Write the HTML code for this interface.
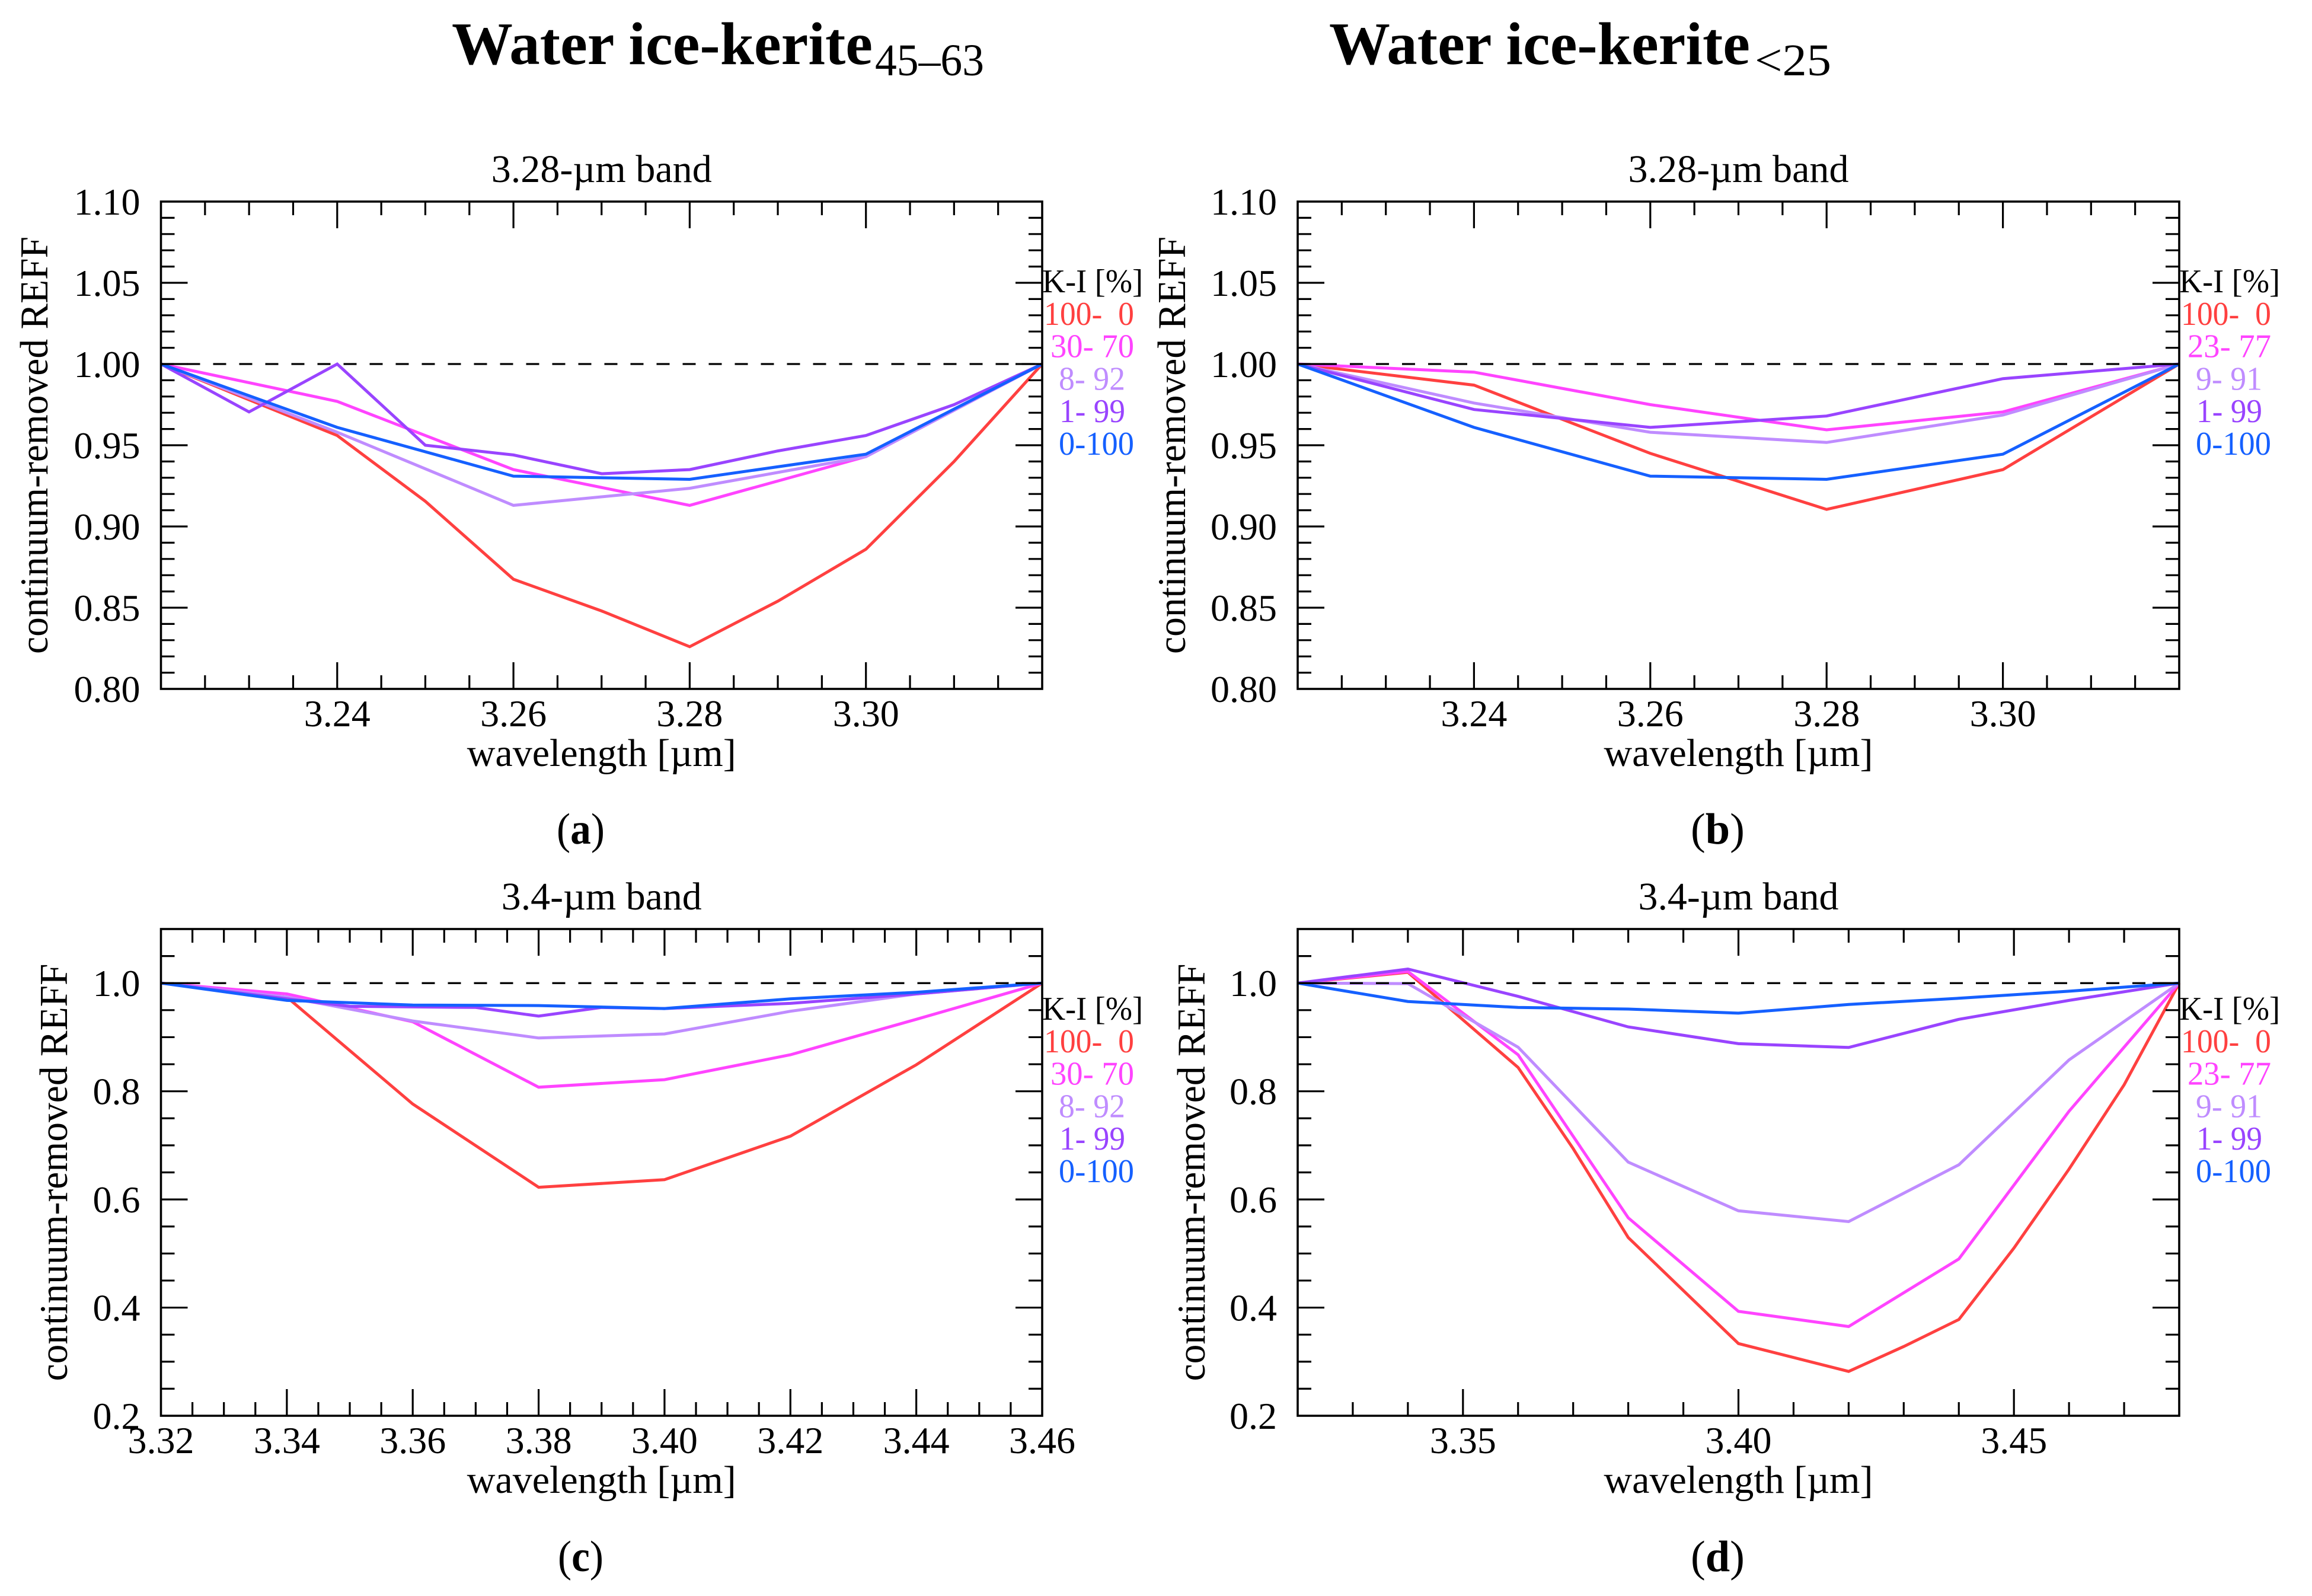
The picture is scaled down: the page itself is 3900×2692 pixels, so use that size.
<!DOCTYPE html>
<html lang="en">
<head>
<meta charset="utf-8">
<title>Water ice-kerite continuum-removed reflectance</title>
<style>
html,body{margin:0;padding:0;background:#fff;}
svg{display:block;}
text{font-family:"Liberation Serif","DejaVu Serif",serif;fill:#000;white-space:pre;}
</style>
</head>
<body>
<svg id="figure" xmlns="http://www.w3.org/2000/svg" width="3900" height="2692" viewBox="0 0 3900 2692">
  <rect x="0" y="0" width="3900" height="2692" fill="#fff"/>
  <text x="762" y="108" font-size="102" font-weight="bold" textLength="710" lengthAdjust="spacingAndGlyphs">Water ice-kerite</text>
  <text x="1476" y="127" font-size="76" textLength="184" lengthAdjust="spacingAndGlyphs">45–63</text>
  <text x="2242" y="108" font-size="102" font-weight="bold" textLength="710" lengthAdjust="spacingAndGlyphs">Water ice-kerite</text>
  <text x="2960" y="127" font-size="76" textLength="129" lengthAdjust="spacingAndGlyphs">&lt;25</text>
  <text x="939" y="1423" font-size="74" textLength="81" lengthAdjust="spacingAndGlyphs">(<tspan font-weight="bold">a</tspan>)</text>
  <text x="2852" y="1423" font-size="74" textLength="91" lengthAdjust="spacingAndGlyphs">(<tspan font-weight="bold">b</tspan>)</text>
  <text x="941" y="2650" font-size="74" textLength="77" lengthAdjust="spacingAndGlyphs">(<tspan font-weight="bold">c</tspan>)</text>
  <text x="2852" y="2650" font-size="74" textLength="91" lengthAdjust="spacingAndGlyphs">(<tspan font-weight="bold">d</tspan>)</text>
</svg>
<script>
// ---------- Panel (a) data ----------
const aWave = [3.22, 3.24, 3.26, 3.28, 3.30, 3.32];
const aDenseWave = [3.22, 3.23, 3.24, 3.25, 3.26, 3.27, 3.28, 3.29, 3.30, 3.31, 3.32];
const aRed = [1.0, 0.978, 0.956, 0.9155, 0.8675, 0.848, 0.826, 0.854, 0.886, 0.94, 1.0];
const aMagenta = [1.0, 0.977, 0.935, 0.913, 0.943, 1.0];
const aLight = [1.0, 0.958, 0.913, 0.9235, 0.943, 1.0];
const aPurple = [1.0, 0.9705, 1.0, 0.95, 0.944, 0.9325, 0.935, 0.9465, 0.956, 0.975, 1.0];
const aBlue = [1.0, 0.961, 0.931, 0.929, 0.9445, 1.0];
const aLegend = ['100-  0', '30- 70', '8- 92', '1- 99', '0-100'];
const aXLabels = ['3.24', '3.26', '3.28', '3.30'];
const aYLabels = ['0.80', '0.85', '0.90', '0.95', '1.00', '1.05', '1.10'];

// ---------- Panel (b) data ----------
const bWave = [3.22, 3.24, 3.26, 3.28, 3.30, 3.32];
const bRed = [1.0, 0.987, 0.945, 0.9105, 0.935, 1.0];
const bMagenta = [1.0, 0.995, 0.975, 0.9595, 0.9705, 1.0];
const bLight = [1.0, 0.976, 0.958, 0.9517, 0.9686, 1.0];
const bPurple = [1.0, 0.972, 0.961, 0.968, 0.991, 1.0];
const bBlue = [1.0, 0.961, 0.931, 0.929, 0.9445, 1.0];
const bLegend = ['100-  0', '23- 77', '9- 91', '1- 99', '0-100'];
const bXLabels = ['3.24', '3.26', '3.28', '3.30'];
const bYLabels = ['0.80', '0.85', '0.90', '0.95', '1.00', '1.05', '1.10'];

// ---------- Panel (c) data ----------
const cWave = [3.32, 3.34, 3.36, 3.38, 3.40, 3.42, 3.44, 3.46];
const cPurpleWave = [3.32, 3.34, 3.35, 3.37, 3.38, 3.39, 3.40, 3.42, 3.44, 3.46];
const cRed = [1.0, 0.974, 0.7765, 0.6225, 0.6365, 0.717, 0.849, 1.0];
const cMagenta = [1.0, 0.98, 0.9285, 0.8075, 0.8215, 0.8675, 0.933, 1.0];
const cLight = [1.0, 0.974, 0.93, 0.8985, 0.906, 0.948, 0.98, 1.0];
const cPurple = [1.0, 0.971, 0.957, 0.955, 0.939, 0.955, 0.953, 0.9625, 0.98, 1.0];
const cBlue = [1.0, 0.968, 0.9595, 0.9585, 0.953, 0.971, 0.983, 1.0];
const cLegend = ['100-  0', '30- 70', '8- 92', '1- 99', '0-100'];
const cXLabels = ['3.32', '3.34', '3.36', '3.38', '3.40', '3.42', '3.44', '3.46'];
const cYLabels = ['0.2', '0.4', '0.6', '0.8', '1.0'];

// ---------- Panel (d) data ----------
const dWave = [3.32, 3.34, 3.36, 3.38, 3.40, 3.42, 3.44, 3.46, 3.48];
const dRedWave = [3.32, 3.34, 3.36, 3.37, 3.38, 3.40, 3.42, 3.43, 3.44, 3.45, 3.46, 3.47, 3.48];
const dMagentaWave = [3.32, 3.34, 3.36, 3.38, 3.40, 3.42, 3.44, 3.46, 3.48];
const dRed = [1.0, 1.02, 0.844, 0.694, 0.5295, 0.3335, 0.282, 0.328, 0.378, 0.51, 0.656, 0.812, 1.0];
const dMagenta = [1.0, 1.0215, 0.8675, 0.566, 0.393, 0.365, 0.49, 0.763, 1.0];
const dLight = [1.0, 0.999, 0.8815, 0.669, 0.579, 0.559, 0.664, 0.858, 1.0];
const dPurple = [1.0, 1.026, 0.9755, 0.919, 0.888, 0.881, 0.933, 0.968, 1.0];
const dBlue = [1.0, 0.966, 0.955, 0.952, 0.9445, 0.9605, 0.972, 0.985, 1.0];
const dLegend = ['100-  0', '23- 77', '9- 91', '1- 99', '0-100'];
const dXLabels = ['3.35', '3.40', '3.45'];
const dYLabels = ['0.2', '0.4', '0.6', '0.8', '1.0'];

// ---------- Styling ----------
const NS = 'http://www.w3.org/2000/svg';
const svg = document.getElementById('figure');
const seriesColors = ['#ff4040', '#ff44ff', '#bf8cff', '#9944ff', '#1560ff'];
const seriesNames = ['k100-i0', 'mix-high-kerite', 'mix-mid-kerite', 'k1-i99', 'k0-i100'];

function make(parent, tag, name) {
  const el = document.createElementNS(NS, tag);
  
  
  parent.appendChild(el);
  return el;
}

function stroke(parent, name, x1, y1, x2, y2, w) {
  const l = make(parent, 'line', name);
  l.setAttribute('x1', x1);
  l.setAttribute('y1', y1);
  l.setAttribute('x2', x2);
  l.setAttribute('y2', y2);
  l.setAttribute('stroke', '#000');
  l.setAttribute('stroke-width', w);
  return l;
}

function label(parent, name, str, x, y, size, anchor, len) {
  const t = make(parent, 'text', name);
  t.setAttribute('x', x);
  t.setAttribute('y', y);
  t.setAttribute('font-size', size);
  t.setAttribute('text-anchor', anchor);
  if (len) {
    t.setAttribute('textLength', len);
    t.setAttribute('lengthAdjust', 'spacingAndGlyphs');
  }
  t.textContent = str;
  return t;
}

function drawPanel(p) {
  const g = make(svg, 'g', 'panel-' + p.id);
  const W = p.right - p.left;
  const H = p.bottom - p.top;
  const xAt = v => p.left + (v - p.xMin) / (p.xMax - p.xMin) * W;
  const yAt = v => p.bottom - (v - p.yMin) / (p.yMax - p.yMin) * H;
  const MAJOR = 45, MINOR = 23;

  // series
  const clip = make(g, 'g', 'series-group');
  p.series.forEach((s, i) => {
    const pl = make(clip, 'polyline', 'series-' + seriesNames[i]);
    pl.setAttribute('fill', 'none');
    pl.setAttribute('stroke', seriesColors[i]);
    pl.setAttribute('stroke-width', '5');
    pl.setAttribute('stroke-linejoin', 'miter');
    pl.setAttribute('points', s.y.map((v, k) => xAt(s.x[k]).toFixed(1) + ',' + yAt(v).toFixed(1)).join(' '));
  });

  // reference dashed line
  const ref = stroke(g, 'reference-line', p.left, yAt(1), p.right, yAt(1), 3.2);
  ref.setAttribute('stroke-dasharray', '22 22');

  // x ticks
  const nx = Math.round((p.xMax - p.xMin) / p.xMinor);
  for (let i = 1; i < nx; i++) {
    const v = p.xMin + i * p.xMinor;
    const isMajor = Math.abs(v / p.xMajor - Math.round(v / p.xMajor)) < 1e-6;
    const len = isMajor ? MAJOR : MINOR;
    const x = xAt(v);
    stroke(g, 'x-tick-bottom', x, p.bottom, x, p.bottom - len, 3.2);
    stroke(g, 'x-tick-top', x, p.top, x, p.top + len, 3.2);
  }
  p.xLabels.forEach(s => {
    label(g, 'x-tick-label', s, xAt(parseFloat(s)), p.bottom + 63, 64, 'middle');
  });

  // y ticks
  const ny = Math.round((p.yMax - p.yMin) / p.yMinor);
  for (let i = 1; i < ny; i++) {
    const v = p.yMin + i * p.yMinor;
    const isMajor = Math.abs(v / p.yMajor - Math.round(v / p.yMajor)) < 1e-6;
    const len = isMajor ? MAJOR : MINOR;
    const y = yAt(v);
    stroke(g, 'y-tick-left', p.left, y, p.left + len, y, 3.2);
    stroke(g, 'y-tick-right', p.right, y, p.right - len, y, 3.2);
  }
  p.yLabels.forEach(s => {
    label(g, 'y-tick-label', s, p.left - 35, yAt(parseFloat(s)) + 22, 64, 'end');
  });

  // frame
  const frame = make(g, 'rect', 'plot-frame');
  frame.setAttribute('x', p.left);
  frame.setAttribute('y', p.top);
  frame.setAttribute('width', W);
  frame.setAttribute('height', H);
  frame.setAttribute('fill', 'none');
  frame.setAttribute('stroke', '#000');
  frame.setAttribute('stroke-width', '3.6');

  // titles
  const cx = (p.left + p.right) / 2;
  label(g, 'panel-title', p.title, cx, p.top - 33, 66, 'middle', p.titleLen);
  label(g, 'x-axis-title', 'wavelength [µm]', cx, p.bottom + 130, 66, 'middle', 454);
  const yt = label(g, 'y-axis-title', 'continuum-removed REFF', 0, 0, 67, 'middle', 704);
  yt.setAttribute('transform', 'translate(' + p.yTitleX + ' ' + ((p.top + p.bottom) / 2) + ') rotate(-90)');

  // legend
  const lg = make(g, 'g', 'legend');
  const base = p.top + 153;
  label(lg, 'legend-title', 'K-I [%]', p.right, base, 56, 'start', 170);
  p.legend.forEach((s, i) => {
    const t = label(lg, 'legend-entry', s, p.right + legendStart[i], base + 54.8 * (i + 1), 56, 'start', legendWidth[i]);
    t.style.fill = seriesColors[i];
  });
}

const legendStart = [3, 14, 28, 29, 28];
const legendWidth = [152, 141, 112, 111, 127];

drawPanel({
  id: 'a', left: 271.5, right: 1758, top: 340, bottom: 1162,
  xMin: 3.22, xMax: 3.32, xMajor: 0.02, xMinor: 0.005,
  yMin: 0.8, yMax: 1.1, yMajor: 0.05, yMinor: 0.01,
  title: '3.28-µm band', titleLen: 372, yTitleX: 80,
  xLabels: aXLabels, yLabels: aYLabels, legend: aLegend,
  series: [
    { x: aDenseWave, y: aRed },
    { x: aWave, y: aMagenta },
    { x: aWave, y: aLight },
    { x: aDenseWave, y: aPurple },
    { x: aWave, y: aBlue }
  ]
});
drawPanel({
  id: 'b', left: 2189, right: 3676, top: 340, bottom: 1162,
  xMin: 3.22, xMax: 3.32, xMajor: 0.02, xMinor: 0.005,
  yMin: 0.8, yMax: 1.1, yMajor: 0.05, yMinor: 0.01,
  title: '3.28-µm band', titleLen: 372, yTitleX: 1999,
  xLabels: bXLabels, yLabels: bYLabels, legend: bLegend,
  series: [
    { x: bWave, y: bRed },
    { x: bWave, y: bMagenta },
    { x: bWave, y: bLight },
    { x: bWave, y: bPurple },
    { x: bWave, y: bBlue }
  ]
});
drawPanel({
  id: 'c', left: 271.5, right: 1758, top: 1567, bottom: 2388,
  xMin: 3.32, xMax: 3.46, xMajor: 0.02, xMinor: 0.005,
  yMin: 0.2, yMax: 1.1, yMajor: 0.2, yMinor: 0.05,
  title: '3.4-µm band', titleLen: 338, yTitleX: 113,
  xLabels: cXLabels, yLabels: cYLabels, legend: cLegend,
  series: [
    { x: cWave, y: cRed },
    { x: cWave, y: cMagenta },
    { x: cWave, y: cLight },
    { x: cPurpleWave, y: cPurple },
    { x: cWave, y: cBlue }
  ]
});
drawPanel({
  id: 'd', left: 2189, right: 3676, top: 1567, bottom: 2388,
  xMin: 3.32, xMax: 3.48, xMajor: 0.05, xMinor: 0.01,
  yMin: 0.2, yMax: 1.1, yMajor: 0.2, yMinor: 0.05,
  title: '3.4-µm band', titleLen: 338, yTitleX: 2032,
  xLabels: dXLabels, yLabels: dYLabels, legend: dLegend,
  series: [
    { x: dRedWave, y: dRed },
    { x: dMagentaWave, y: dMagenta },
    { x: dWave, y: dLight },
    { x: dWave, y: dPurple },
    { x: dWave, y: dBlue }
  ]
});
</script>
</body>
</html>
